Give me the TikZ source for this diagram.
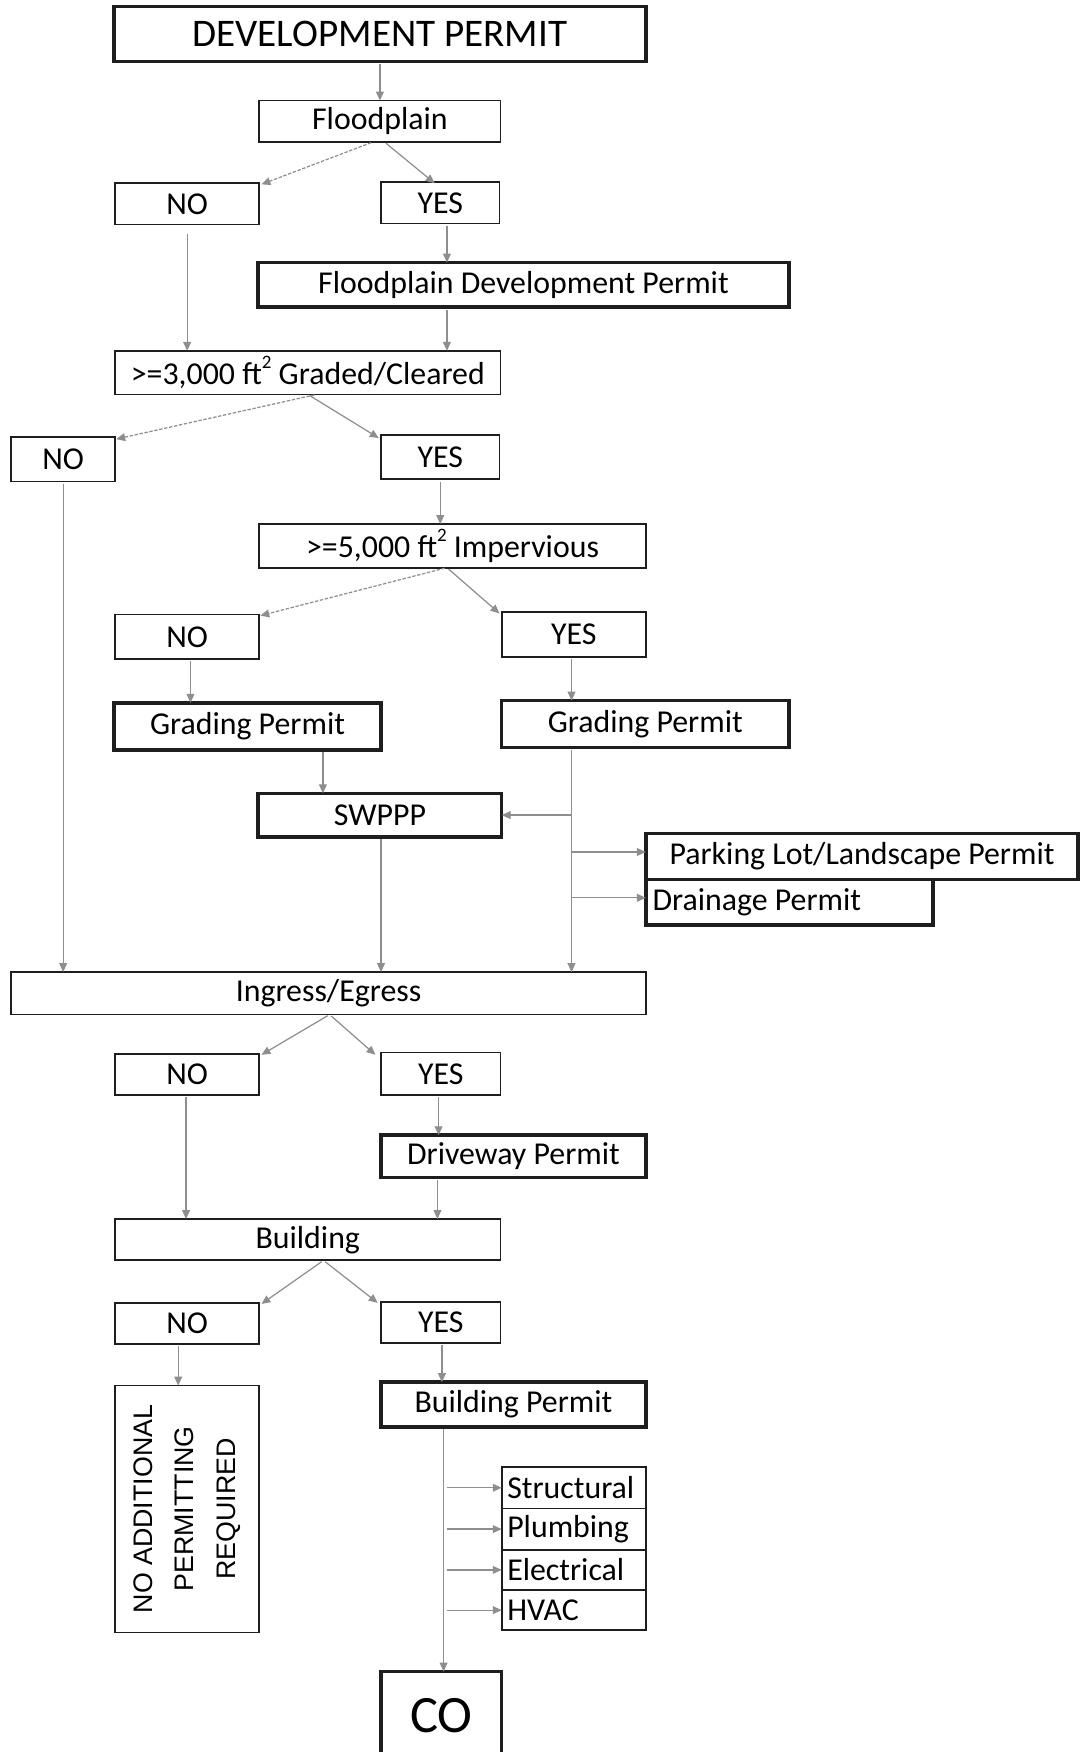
\documentclass[tikz,border=0pt]{standalone}
\usepackage{fontspec}
\setmainfont{Carlito}
\newfontfamily\arialf{Liberation Sans}
\usetikzlibrary{arrows.meta,calc}
\definecolor{arrgray}{HTML}{8E8E8E}
\definecolor{boxline}{HTML}{1E1E1E}
\newcommand{\sqsup}{\raisebox{0.5em}{\fontsize{17}{17}\selectfont 2}}
\begin{document}
\begin{tikzpicture}[x=1pt,y=-1pt,
  every node/.style={font=\fontsize{28.5}{34}\selectfont, inner sep=0pt, outer sep=0pt},
  box/.style={draw=boxline, line width=1.6pt},
  tbox/.style={draw=boxline, line width=3.2pt},
  arr/.style={draw=arrgray, line width=1.1pt, -{Triangle[length=8pt,width=7pt]}, shorten <=2pt},
  darr/.style={arr, dash pattern=on 3pt off 1.5pt}]
\fill[white] (0,0) rectangle (966,1568);
\useasboundingbox (0,0) rectangle (966,1568);

% nodes
\node[tbox, minimum width=476pt, minimum height=49pt, font=\fontsize{35}{40}\selectfont] (dev) at (340,30.5) {DEVELOPMENT PERMIT};
\node[box, minimum width=216pt, minimum height=37pt] (flood) at (340,108.5) {Floodplain};
\node[box, minimum width=129pt, minimum height=37pt] (no1) at (167.5,182.5) {NO};
\node[box, minimum width=106pt, minimum height=37pt] (yes1) at (394,181.5) {YES};
\node[tbox, minimum width=475pt, minimum height=40pt] (fdp) at (468.5,255) {Floodplain Development Permit};
\node[box, minimum width=345pt, minimum height=39pt] (g3) at (275.5,333.5) {>=3,000 ft\sqsup\ Graded/Cleared};
\node[box, minimum width=93pt, minimum height=40pt] (no2) at (56.5,411) {NO};
\node[box, minimum width=106pt, minimum height=40pt] (yes2) at (394,409) {YES};
\node[box, minimum width=346pt, minimum height=39pt] (imp) at (405,488.5) {>=5,000 ft\sqsup\ Impervious};
\node[box, minimum width=129pt, minimum height=40pt] (no3) at (167.5,570) {NO};
\node[box, minimum width=129pt, minimum height=40pt] (yes3) at (513.5,568) {YES};
\node[tbox, minimum width=239pt, minimum height=42pt] (gpl) at (221.5,650) {Grading Permit};
\node[tbox, minimum width=257pt, minimum height=42pt] (gpr) at (577.5,648) {Grading Permit};
\node[tbox, minimum width=218pt, minimum height=39pt] (swppp) at (340,729.5) {SWPPP};
\node[tbox, minimum width=387pt, minimum height=41pt] (park) at (771.5,766.5) {Parking Lot/Landscape Permit};
\node[tbox, minimum width=257pt, minimum height=41pt] (drain) at (706.5,807.5) {\makebox[245pt][l]{Drainage Permit}};
\node[box, minimum width=568pt, minimum height=38pt] (ingress) at (294,889) {Ingress/Egress};
\node[box, minimum width=129pt, minimum height=37pt] (no4) at (167.5,961.5) {NO};
\node[box, minimum width=107pt, minimum height=38pt] (yes4) at (394.5,961) {YES};
\node[tbox, minimum width=237pt, minimum height=38pt] (drive) at (459.5,1035) {Driveway Permit};
\node[box, minimum width=345pt, minimum height=37pt] (build) at (275.5,1109.5) {Building};
\node[box, minimum width=129pt, minimum height=37pt] (no5) at (167.5,1184.5) {NO};
\node[box, minimum width=107pt, minimum height=37pt] (yes5) at (394.5,1183.5) {YES};
\node[box, minimum width=129pt, minimum height=221pt] (napr) at (167.5,1350.5) {};
\node[rotate=90, align=center, font=\arialf\fontsize{24}{37}\selectfont] (naprtext) at (napr.center) {NO ADDITIONAL\\PERMITTING\\REQUIRED};
\node[tbox, minimum width=237pt, minimum height=40pt] (bp) at (459.5,1257) {Building Permit};
\node[box, minimum width=129pt, minimum height=37pt] (struct) at (513.5,1331.5) {\makebox[119pt][l]{Structural}};
\node[box, minimum width=129pt, minimum height=37pt] (plumb) at (513.5,1368.5) {\makebox[119pt][l]{Plumbing}};
\node[box, minimum width=129pt, minimum height=36pt] (elec) at (513.5,1405) {\makebox[119pt][l]{Electrical}};
\node[box, minimum width=129pt, minimum height=36pt] (hvac) at (513.5,1441) {\makebox[119pt][l]{HVAC}};
\node[tbox, minimum width=108pt, minimum height=78pt, font=\fontsize{47}{50}\selectfont] (co) at (395,1535) {CO};

% connectors
\draw[arr] (dev.south) -- (flood.north);
\draw[darr] ([xshift=-6pt]flood.south) -- ([shift={(2pt,-1pt)}]no1.north east);
\draw[arr] ([xshift=4pt]flood.south) -- ([shift={(-5pt,-1pt)}]yes1.north);
\draw[arr, shorten <=8pt] (no1.south) -- (no1.south |- g3.north);
\draw[arr] ([xshift=6pt]yes1.south) -- ([xshift=6pt]yes1.south |- fdp.north);
\draw[arr] ([xshift=6pt]yes1.south |- fdp.south) -- ([xshift=6pt]yes1.south |- g3.north);
\draw[darr] ([xshift=8pt]g3.south) -- ([shift={(1pt,-2pt)}]no2.north east);
\draw[arr] (g3.south) -- ([shift={(-2pt,-3pt)}]yes2.north west);
\draw[arr] (no2.south) -- (no2.south |- ingress.north);
\draw[arr] (yes2.south) -- (yes2.south |- imp.north);
\draw[darr] ([xshift=-5pt]imp.south) -- ([shift={(1pt,-1pt)}]no3.north east);
\draw[arr] ([xshift=-5pt]imp.south) -- ([shift={(-2pt,-1pt)}]yes3.north west);
\draw[arr] ([xshift=3pt]no3.south) -- ([xshift=3pt]no3.south |- gpl.north);
\draw[arr] ([xshift=-2pt]yes3.south) -- ([xshift=-2pt]yes3.south |- gpr.north);
\draw[arr] ([xshift=67.5pt]gpl.south) -- ([xshift=67.5pt]gpl.south |- swppp.north);
\draw[arr] ([xshift=-2pt]yes3.south |- gpr.south) -- ([xshift=-2pt]yes3.south |- ingress.north);
\draw[arr, shorten <=0pt] ([xshift=-2pt]yes3.south |- swppp.east) -- (swppp.east);
\draw[arr, shorten <=0pt] ([shift={(-2pt,4pt)}]yes3.south |- park.west) -- ([yshift=4pt]park.west);
\draw[arr, shorten <=0pt] ([shift={(-2pt,4pt)}]yes3.south |- drain.west) -- ([yshift=4pt]drain.west);
\draw[arr] ([xshift=1pt]swppp.south) -- ([xshift=1pt]swppp.south |- ingress.north);
\draw[arr] ([xshift=1pt]ingress.south) -- ([shift={(2pt,-1pt)}]no4.north east);
\draw[arr] ([xshift=1pt]ingress.south) -- ([shift={(-5pt,-2pt)}]yes4.north west);
\draw[arr] ([xshift=-1pt]no4.south) -- ([xshift=-1pt]no4.south |- build.north);
\draw[arr] ([xshift=-2pt]yes4.south) -- ([xshift=-2pt]yes4.south |- drive.north);
\draw[arr] ([xshift=-3pt]yes4.south |- drive.south) -- ([xshift=-3pt]yes4.south |- build.north);
\draw[arr] ([xshift=14pt]build.south) -- ([shift={(2pt,-1pt)}]no5.north east);
\draw[arr] ([xshift=14pt]build.south) -- ([shift={(-3pt,-1pt)}]yes5.north west);
\draw[arr] ([xshift=-8pt]no5.south) -- ([xshift=-8pt]no5.south |- napr.north);
\draw[arr] ([xshift=1pt]yes5.south) -- ([xshift=1pt]yes5.south |- bp.north);
\draw[arr] ([xshift=2pt]co.north |- bp.south) -- ([xshift=2pt]co.north);
\draw[arr, shorten <=3pt] ([xshift=2pt]co.north |- struct.west) -- (struct.west);
\draw[arr, shorten <=3pt] ([xshift=2pt]co.north |- plumb.west) -- (plumb.west);
\draw[arr, shorten <=3pt] ([xshift=2pt]co.north |- elec.west) -- (elec.west);
\draw[arr, shorten <=3pt] ([xshift=2pt]co.north |- hvac.west) -- (hvac.west);
\end{tikzpicture}
\end{document}
